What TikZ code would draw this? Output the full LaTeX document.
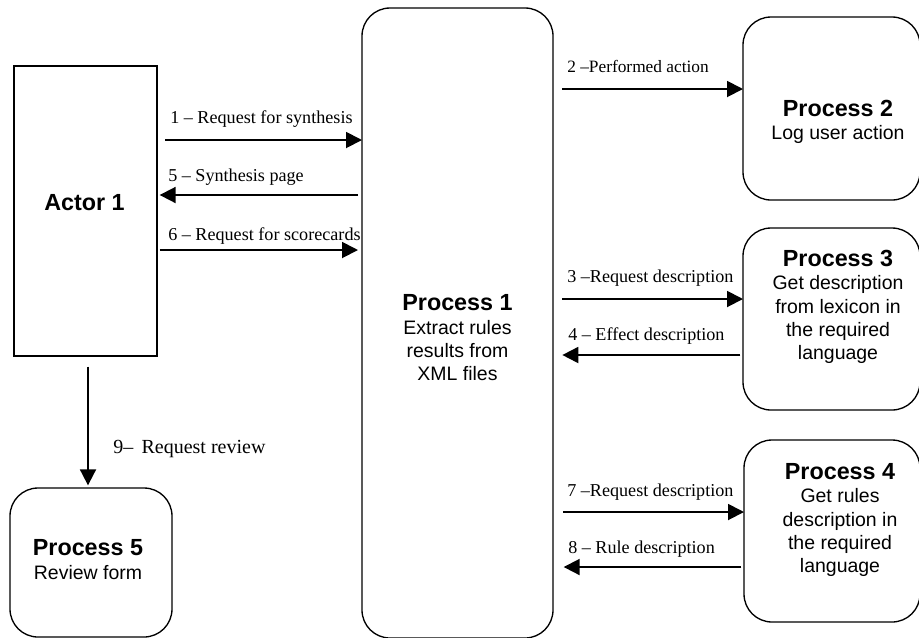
\documentclass[tikz,border=0pt]{standalone}
\usepackage{fontspec}
\setmainfont{Liberation Serif}
\setsansfont{Liberation Sans}
\usetikzlibrary{arrows.meta}
\newcommand{\boxtitle}{\bfseries\fontsize{17.5}{21}\selectfont}
\begin{document}
\begin{tikzpicture}[x=0.75pt,y=-0.75pt,
  box/.style={draw, line width=1pt, rounded corners=21pt, inner sep=0pt, outer sep=0pt},
  actorbox/.style={draw, line width=0.9pt, inner sep=0pt, outer sep=0pt},
  txt/.style={font=\sffamily\fontsize{14.6}{17.5}\selectfont, align=center, inner sep=0pt},
  lbl/.style={font=\fontsize{13.6}{15}\selectfont, anchor=base west, inner sep=0pt},
  flow/.style={line width=1.4pt, -{Triangle[length=12pt,width=12pt]}}]

\useasboundingbox (0,0) rectangle (919,637);

% boxes
\node[actorbox, minimum width=107.25pt, minimum height=217.5pt] (actor) at (85.5,211) {};
\node[box, minimum width=143.25pt, minimum height=472.5pt] (p1) at (457.5,323) {};
\node[box, minimum width=132.75pt, minimum height=137.25pt] (p2) at (831.5,108.5) {};
\node[box, minimum width=132.75pt, minimum height=136.5pt] (p3) at (831.5,319) {};
\node[box, minimum width=132pt, minimum height=136.5pt] (p4) at (832,531) {};
\node[box, minimum width=121.5pt, minimum height=111.75pt] (p5) at (91,562.5) {};

% texts
\node[txt] (actort) at (84.5,203) {{\boxtitle Actor 1}};
\node[txt] (p1t) at (457.5,338) {{\boxtitle Process 1}\\Extract rules\\results from\\XML files};
\node[txt] (p2t) at (838,122) {{\boxtitle Process 2}\\Log user action};
\node[txt] (p3t) at (838,307) {{\boxtitle Process 3}\\Get description\\from lexicon in\\the required\\language};
\node[txt] (p4t) at (840,520) {{\boxtitle Process 4}\\Get rules\\description in\\the required\\language};
\node[txt] (p5t) at (88,559.5) {{\boxtitle Process 5}\\Review form};

% row coordinates
\coordinate (r1) at (0,140);
\coordinate (r5) at (0,195);
\coordinate (r6) at (0,250);
\coordinate (r2) at (0,89);
\coordinate (r3) at (0,299);
\coordinate (r4) at (0,355);
\coordinate (r7) at (0,512);
\coordinate (r8) at (0,567);
\coordinate (c9) at (88,0);

% connectors
\draw[flow, shorten <=6pt] (actor.east |- r1) -- (p1.west |- r1);
\draw[flow, shorten <=3pt, shorten >=2pt] (p1.west |- r5) -- (actor.east |- r5);
\draw[flow, shorten <=2pt, shorten >=3pt] (actor.east |- r6) -- (p1.west |- r6);
\draw[flow, shorten <=7pt] (p1.east |- r2) -- (p2.west |- r2);
\draw[flow, shorten <=7pt] (p1.east |- r3) -- (p3.west |- r3);
\draw[flow, shorten <=2pt, shorten >=7pt] (p3.west |- r4) -- (p1.east |- r4);
\draw[flow, shorten <=7.5pt] (p1.east |- r7) -- (p4.west |- r7);
\draw[flow, shorten <=2pt, shorten >=8pt] (p4.west |- r8) -- (p1.east |- r8);
\draw[flow, shorten <=8pt, shorten >=2pt] (actor.south -| c9) -- (p5.north -| c9);

% labels
\node[lbl] (l1) at (170,123) {1 – Request for synthesis};
\node[lbl] (l5) at (168,181) {5 – Synthesis page};
\node[lbl] (l6) at (168,240) {6 – Request for scorecards};
\node[lbl, font=\fontsize{13}{15}\selectfont] (l2) at (567,72) {2 –Performed action};
\node[lbl] (l3) at (567,282) {3 –Request description};
\node[lbl] (l4) at (568,340) {4 – Effect description};
\node[lbl] (l7) at (567,496) {7 –Request description};
\node[lbl] (l8) at (568,553) {8 – Rule description};
\node[lbl, font=\fontsize{15}{17}\selectfont] (l9) at (113,453) {9–\, Request review};
\end{tikzpicture}
\end{document}
